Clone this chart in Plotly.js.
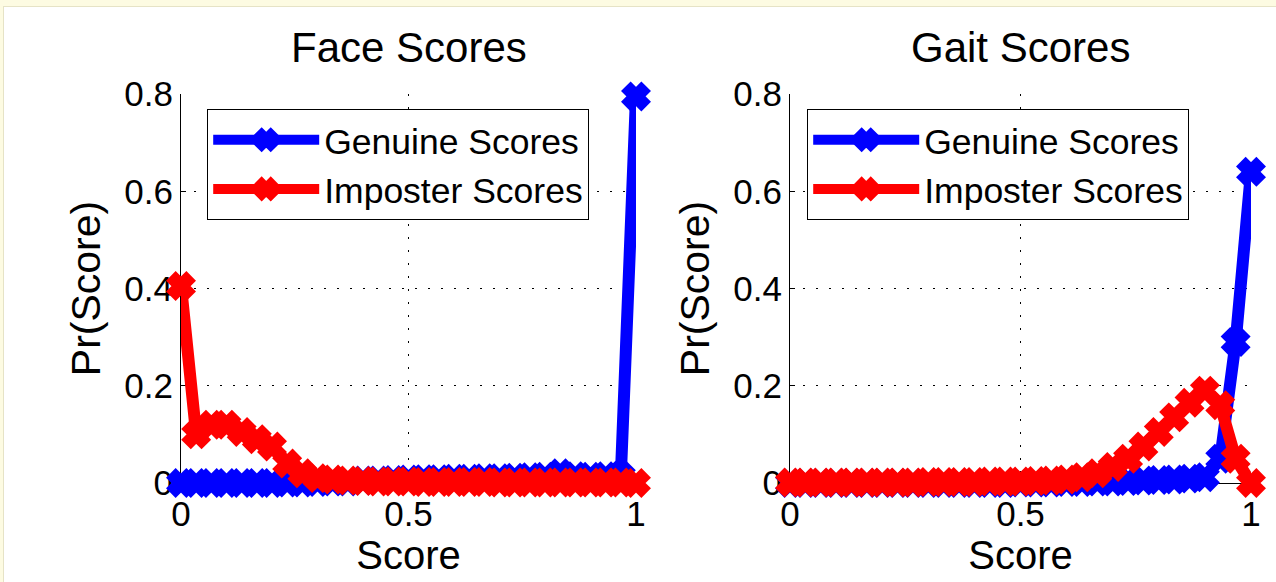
<!DOCTYPE html>
<html>
<head>
<meta charset="utf-8">
<script src="https://cdn.plot.ly/plotly-3.0.1.min.js"></script>
<style>
  html, body { margin: 0; padding: 0; }
  body { width: 1276px; height: 582px; background: #fdfbe2; position: relative; overflow: hidden; }
  #panel { position: absolute; left: 3px; top: 6px; right: 0; bottom: 0; background: #ffffff;
           border-left: 1px solid #e6e3c6; border-top: 1px solid #e6e3c6; }
  #chart { position: absolute; left: 0; top: 0; width: 1276px; height: 582px; }
</style>
</head>
<body>
<div id="panel"></div>
<div id="chart"></div>
<script>
// Score bins (31 bins across [0, 1])
const scoreBins = Array.from({length: 31}, (_, i) => i / 30);

// Face matcher score distributions
const faceGenuine = [0, 0, 0, 0, 0, 0, 0, 0.001, 0.001, 0.002, 0.003, 0.003, 0.005, 0.005, 0.006,
  0.007, 0.008, 0.008, 0.009, 0.009, 0.01, 0.01, 0.011, 0.012, 0.013, 0.02, 0.014, 0.013,
  0.014, 0.015, 0.795];
const faceImposter = [0.405, 0.10, 0.12, 0.12, 0.105, 0.09, 0.075, 0.04, 0.02, 0.01, 0.007,
  0.005, 0.004, 0.003, 0.003, 0.003, 0.002, 0.002, 0.002, 0.002, 0.002, 0.001, 0.001, 0.001,
  0.001, 0.001, 0.001, 0.001, 0.001, 0.001, 0];

// Gait matcher score distributions
const gaitGenuine = [0, 0, 0, 0, 0, 0, 0, 0, 0, 0, 0, 0, 0, 0, 0, 0.001, 0.001, 0.001, 0.002,
  0.002, 0.003, 0.003, 0.004, 0.005, 0.006, 0.007, 0.009, 0.012, 0.05, 0.29, 0.64];
const gaitImposter = [0.001, 0.001, 0.001, 0.001, 0.001, 0.001, 0.001, 0.001, 0.001, 0.002,
  0.002, 0.002, 0.002, 0.003, 0.003, 0.003, 0.004, 0.005, 0.007, 0.012, 0.02, 0.033, 0.05,
  0.075, 0.105, 0.135, 0.165, 0.19, 0.16, 0.05, 0];

const panelTitles = ['Face Scores', 'Gait Scores'];
const seriesNames = ['Genuine Scores', 'Imposter Scores'];
const xTickVals = [0, 0.5, 1];
const xTickText = ['0', '0.5', '1'];
const yTickVals = [0, 0.2, 0.4, 0.6, 0.8];
const yTickText = ['0', '0.2', '0.4', '0.6', '0.8'];

const W = 1276, H = 582;
const FONT = '"Liberation Sans", Arial, Helvetica, sans-serif';
const BLUE = '#0000ff', RED = '#ff0000';

function series(x, y, name, color, xa, ya, legendId) {
  return {
    type: 'scatter', mode: 'lines+markers', x: x, y: y, name: name,
    xaxis: xa, yaxis: ya, legend: legendId, cliponaxis: false,
    line: {color: color, width: 12},
    marker: {symbol: 'x', size: 19, color: color, line: {color: color, width: 6}},
    hoverinfo: 'x+y'
  };
}

const traces = [
  series(scoreBins, faceGenuine, seriesNames[0], BLUE, 'x', 'y', 'legend'),
  series(scoreBins, faceImposter, seriesNames[1], RED, 'x', 'y', 'legend'),
  series(scoreBins, gaitGenuine, seriesNames[0], BLUE, 'x2', 'y2', 'legend2'),
  series(scoreBins, gaitImposter, seriesNames[1], RED, 'x2', 'y2', 'legend2')
];

function xAxis(domain, anchor) {
  return {
    domain: domain, anchor: anchor, range: [0, 1], fixedrange: true,
    tickvals: xTickVals, ticktext: xTickText,
    ticks: 'inside', ticklen: 5, tickcolor: '#000', tickwidth: 1,
    showline: true, linecolor: '#000', linewidth: 1, mirror: false,
    showgrid: true, gridcolor: '#000', gridwidth: 1, griddash: '2px,11px',
    zeroline: false, layer: 'below traces',
    tickfont: {family: FONT, size: 35, color: '#000'},
    ticklabelstandoff: 0,
    title: {text: 'Score', font: {family: FONT, size: 40, color: '#000'}, standoff: 8}
  };
}
function yAxis(domain, anchor) {
  return {
    domain: domain, anchor: anchor, range: [0, 0.8], fixedrange: true,
    tickvals: yTickVals, ticktext: yTickText,
    ticks: 'inside', ticklen: 5, tickcolor: '#000', tickwidth: 1,
    showline: true, linecolor: '#000', linewidth: 1, mirror: false,
    showgrid: true, gridcolor: '#000', gridwidth: 1, griddash: '2px,11px',
    zeroline: false, layer: 'below traces',
    tickfont: {family: FONT, size: 35, color: '#000'},
    ticklabelstandoff: 0,
    title: {text: 'Pr(Score)', font: {family: FONT, size: 41, color: '#000'}, standoff: 10}
  };
}

const yDom = [1 - 483 / H, 1 - 94 / H];
const xDom1 = [181 / W, 636 / W];
const xDom2 = [790 / W, 1251 / W];

function legendBox(xPx) {
  return {
    x: xPx / W, y: 1 - 109 / H, xanchor: 'left', yanchor: 'top',
    bgcolor: '#ffffff', bordercolor: '#000', borderwidth: 1.2,
    font: {family: FONT, size: 35.5, color: '#000'},
    itemwidth: 106, tracegroupgap: 0
  };
}

const layout = {
  width: W, height: H,
  margin: {l: 0, r: 0, t: 0, b: 0, autoexpand: false},
  paper_bgcolor: 'rgba(0,0,0,0)', plot_bgcolor: 'rgba(0,0,0,0)',
  showlegend: true,
  xaxis: xAxis(xDom1, 'y'), yaxis: yAxis(yDom, 'x'),
  xaxis2: xAxis(xDom2, 'y2'), yaxis2: yAxis(yDom, 'x2'),
  legend: legendBox(207), legend2: legendBox(807),
  annotations: panelTitles.map((t, i) => ({
    text: t, xref: i === 0 ? 'x domain' : 'x2 domain', yref: 'paper',
    x: 0.5, y: 1 - 73 / H, xanchor: 'center', yanchor: 'bottom', showarrow: false,
    font: {family: FONT, size: 42, color: '#000'}
  }))
};

Plotly.newPlot('chart', traces, layout, {staticPlot: true, displayModeBar: false});
</script>
</body>
</html>
